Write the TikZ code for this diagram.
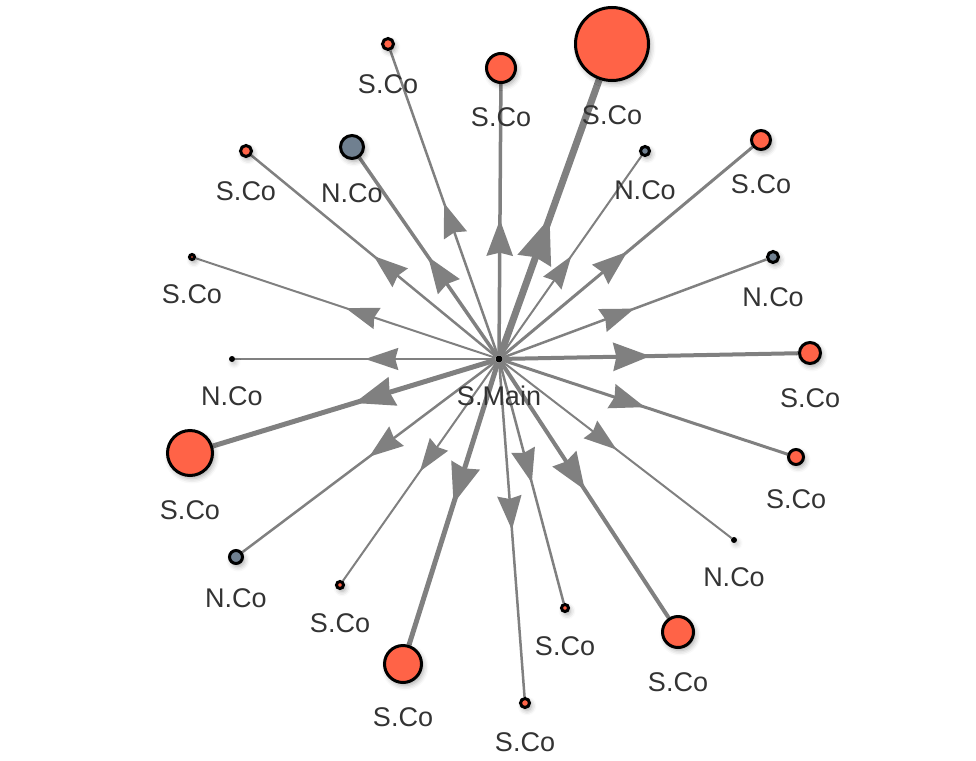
\documentclass[tikz,border=0pt]{standalone}
\usepackage{fontspec}
\setmainfont{Liberation Sans}
\usetikzlibrary{arrows.meta,decorations.markings,shadows.blur}
\pgfdeclarelayer{bg}
\pgfsetlayers{bg,main}
\definecolor{scofill}{RGB}{255,99,71}
\definecolor{ncofill}{RGB}{112,128,144}
\definecolor{edgecol}{RGB}{128,128,128}
\definecolor{txtcol}{RGB}{51,51,51}
\tikzset{
  lbl/.style={inner sep=0pt, text=txtcol, font=\fontsize{27}{32}\selectfont},
  vert/.style={circle, draw=black, line width=3pt, inner sep=0pt, minimum size=#1,
    blur shadow={shadow xshift=2pt, shadow yshift=-3pt, shadow blur radius=5pt, shadow opacity=35}},
  sco/.style={vert=#1, fill=scofill, label={[lbl, label distance=23pt]below:S.Co}},
  nco/.style={vert=#1, fill=ncofill, label={[lbl, label distance=23pt]below:N.Co}},
  dotnode/.style={circle, fill=black, inner sep=0pt, minimum size=6pt,
    blur shadow={shadow xshift=2pt, shadow yshift=-3pt, shadow blur radius=4pt, shadow opacity=20},
    label={[lbl, label distance=24pt]below:#1}},
  edgeline/.style={draw=edgecol, line cap=butt},
}
\newcommand\myedge[4]{%
  \draw[edgeline, line width=#2pt, postaction={decorate, decoration={markings,
    mark=at position 0.5 with {\arrow{Stealth[length=#3pt,width=#4pt,inset=3pt]}}}}] (c) -- (#1);}
\begin{document}
\begin{tikzpicture}[x=1pt, y=-1pt]
\useasboundingbox (0,0) rectangle (976,760);
\node[circle, fill=black, inner sep=0pt, minimum size=7pt,
  label={[lbl, label distance=23pt]below:S.Main}] (c) at (499,359) {};
\node[sco=11pt] (n1) at (388,44) {};
\node[sco=29pt] (n2) at (501,68) {};
\node[sco=73pt] (n3) at (612,44) {};
\node[nco=9pt]  (n4) at (645,151) {};
\node[sco=19pt] (n5) at (761,140) {};
\node[nco=11pt] (n6) at (773,257) {};
\node[sco=21pt] (n7) at (810,353) {};
\node[sco=15pt] (n8) at (796,457) {};
\node[dotnode=N.Co] (n9) at (734,540) {};
\node[sco=31pt] (n10) at (678,632) {};
\node[sco=7pt]  (n11) at (565,608) {};
\node[sco=9pt]  (n12) at (525,703) {};
\node[sco=37pt] (n13) at (403,664) {};
\node[sco=7pt]  (n14) at (340,585) {};
\node[nco=13pt] (n15) at (236,557) {};
\node[sco=45pt] (n16) at (190,453) {};
\node[dotnode=N.Co] (n17) at (232,359) {};
\node[sco=5pt]  (n18) at (192,257) {};
\node[sco=11pt] (n19) at (246,151) {};
\node[nco=23pt] (n20) at (352,147) {};
\begin{pgfonlayer}{bg}
\myedge{n1}{2.5}{34}{24}
\myedge{n2}{3.5}{36}{26}
\myedge{n3}{7}{45}{34}
\myedge{n4}{2}{33}{22}
\myedge{n5}{3}{35}{25}
\myedge{n6}{2.5}{34}{24}
\myedge{n7}{4}{37}{28}
\myedge{n8}{3}{35}{25}
\myedge{n9}{2}{33}{22}
\myedge{n10}{4}{37}{28}
\myedge{n11}{2.5}{34}{24}
\myedge{n12}{2.5}{34}{24}
\myedge{n13}{5}{40}{29}
\myedge{n14}{2}{33}{22}
\myedge{n15}{2.5}{34}{24}
\myedge{n16}{5}{40}{29}
\myedge{n17}{2}{33}{22}
\myedge{n18}{2}{33}{22}
\myedge{n19}{2.5}{34}{24}
\myedge{n20}{3.5}{36}{26}
\end{pgfonlayer}
\end{tikzpicture}
\end{document}
